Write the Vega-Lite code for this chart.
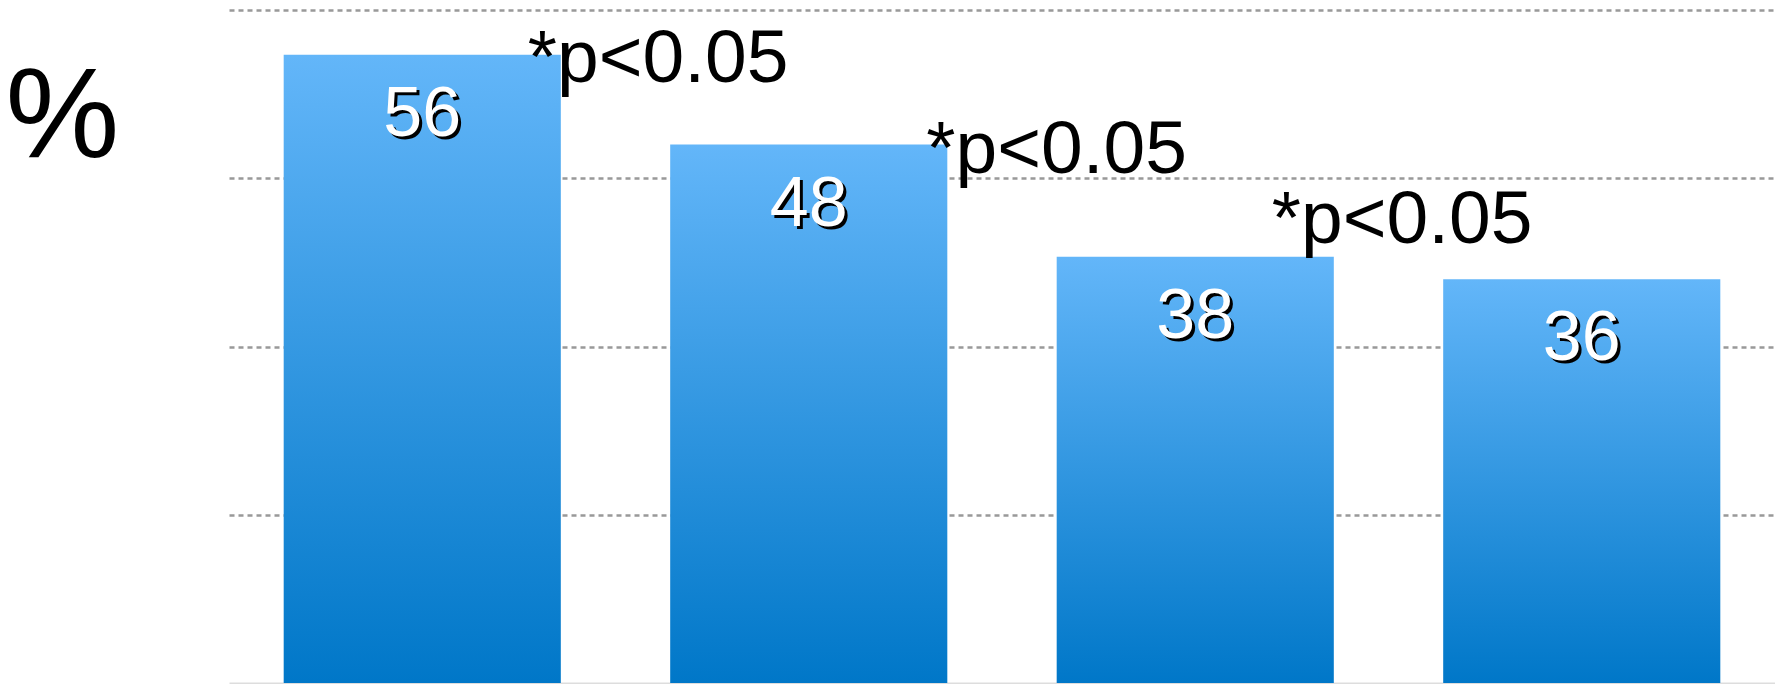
{
  "$schema": "https://vega.github.io/schema/vega-lite/v6.json",
  "autosize": "none",
  "width": 1546,
  "height": 673,
  "padding": {"left": 229, "top": 10, "right": 0, "bottom": 1},
  "background": "white",
  "config": {
    "view": {"stroke": null},
    "font": "Liberation Sans"
  },
  "data": {
    "values": [
      {"group": "A", "value": 56},
      {"group": "B", "value": 48},
      {"group": "C", "value": 38},
      {"group": "D", "value": 36}
    ]
  },
  "layer": [
    {
      "mark": {
        "type": "bar",
        "color": {
          "gradient": "linear",
          "x1": 0, "y1": 0, "x2": 0, "y2": 1,
          "stops": [
            {"offset": 0, "color": "#63b6f9"},
            {"offset": 1, "color": "#0077c8"}
          ]
        }
      },
      "encoding": {
        "x": {
          "field": "group",
          "type": "nominal",
          "sort": null,
          "scale": {"paddingInner": 0.283, "paddingOuter": 0.1415},
          "axis": {
            "title": null,
            "labels": false,
            "ticks": false,
            "grid": false,
            "domain": true,
            "domainColor": "#dddddd",
            "domainWidth": 2
          }
        },
        "y": {
          "field": "value",
          "type": "quantitative",
          "scale": {"domain": [0, 60], "nice": false},
          "axis": {
            "title": "%",
            "titleAngle": 0,
            "titleFont": "Liberation Sans",
            "titleFontSize": 128,
            "titleFontWeight": "normal",
            "titleColor": "#000000",
            "titleAlign": "center",
            "titleBaseline": "alphabetic",
            "titleX": -167,
            "titleY": 146,
            "labels": false,
            "ticks": false,
            "domain": false,
            "values": [15, 30, 45, 60],
            "grid": true,
            "gridColor": "#999999",
            "gridDash": [5, 4],
            "gridWidth": 2.5
          }
        }
      }
    },
    {
      "mark": {
        "type": "text",
        "color": "#000000",
        "fontSize": 70,
        "baseline": "alphabetic",
        "align": "center",
        "dx": 3,
        "dy": 84
      },
      "encoding": {
        "x": {"field": "group", "type": "nominal", "sort": null},
        "y": {"field": "value", "type": "quantitative"},
        "text": {"field": "value", "type": "quantitative"}
      }
    },
    {
      "mark": {
        "type": "text",
        "color": "#ffffff",
        "fontSize": 70,
        "baseline": "alphabetic",
        "align": "center",
        "dy": 81
      },
      "encoding": {
        "x": {"field": "group", "type": "nominal", "sort": null},
        "y": {"field": "value", "type": "quantitative"},
        "text": {"field": "value", "type": "quantitative"}
      }
    },
    {
      "data": {"values": [{"note": "*p<0.05"}]},
      "mark": {"type": "text", "color": "#000000", "fontSize": 75, "align": "left", "baseline": "alphabetic"},
      "encoding": {
        "x": {"datum": "A", "type": "nominal", "bandPosition": 0.881},
        "y": {"datum": 53.6, "type": "quantitative"},
        "text": {"field": "note", "type": "nominal"}
      }
    },
    {
      "data": {"values": [{"note": "*p<0.05"}]},
      "mark": {"type": "text", "color": "#000000", "fontSize": 75, "align": "left", "baseline": "alphabetic"},
      "encoding": {
        "x": {"datum": "B", "type": "nominal", "bandPosition": 0.924},
        "y": {"datum": 45.5, "type": "quantitative"},
        "text": {"field": "note", "type": "nominal"}
      }
    },
    {
      "data": {"values": [{"note": "*p<0.05"}]},
      "mark": {"type": "text", "color": "#000000", "fontSize": 75, "align": "left", "baseline": "alphabetic"},
      "encoding": {
        "x": {"datum": "C", "type": "nominal", "bandPosition": 0.776},
        "y": {"datum": 39.2, "type": "quantitative"},
        "text": {"field": "note", "type": "nominal"}
      }
    }
  ]
}
